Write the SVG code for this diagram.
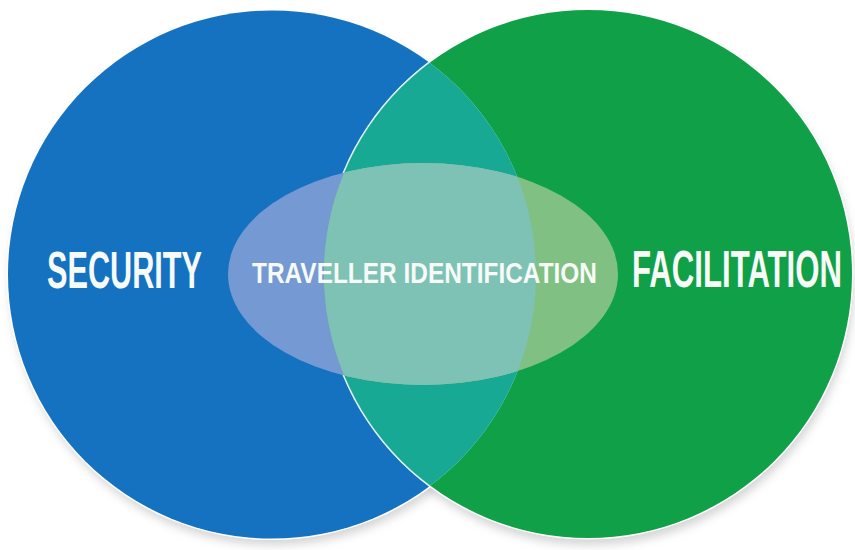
<svg xmlns="http://www.w3.org/2000/svg" width="855" height="550" viewBox="0 0 855 550">
  <style>
    .lbl { font-family: "Liberation Sans", Arial, sans-serif; font-weight: bold; fill: #f7faf7; }
  </style>
  <defs>
    <clipPath id="clipL"><circle cx="272" cy="274.5" r="264"/></clipPath>
    <clipPath id="clipR"><circle cx="588" cy="274" r="264"/></clipPath>
    <filter id="shadow" x="-10%" y="-10%" width="120%" height="120%">
      <feGaussianBlur stdDeviation="5"/>
    </filter>
  </defs>
  <rect width="855" height="550" fill="#ffffff"/>
  <!-- soft shadows -->
  <circle cx="274" cy="281" r="264" fill="#b8b8b8" opacity="0.6" filter="url(#shadow)"/>
  <circle cx="590" cy="281" r="264" fill="#b8b8b8" opacity="0.6" filter="url(#shadow)"/>
  <g id="security">
    <circle cx="272" cy="274.5" r="265.5" fill="#ffffff"/>
    <circle cx="272" cy="274.5" r="264" fill="#1472c0"/>
  </g>
  <g id="facilitation">
    <circle cx="588" cy="274" r="265.5" fill="#ffffff"/>
    <circle cx="588" cy="274" r="264" fill="#0fa048"/>
    <g clip-path="url(#clipL)">
      <circle cx="588" cy="274" r="265" fill="#d8f0ee"/>
      <circle cx="588" cy="274" r="264" fill="#17a994"/>
    </g>
  </g>
  <g id="traveller-identification">
    <g clip-path="url(#clipL)">
      <ellipse cx="423" cy="274" rx="195" ry="111" fill="#7599d2"/>
    </g>
    <g clip-path="url(#clipR)">
      <ellipse cx="423" cy="274" rx="195" ry="111" fill="#81c083"/>
      <g clip-path="url(#clipL)">
        <ellipse cx="423" cy="274" rx="195" ry="111" fill="#7dc2b4"/>
      </g>
    </g>
    <text class="lbl" font-size="24.2" transform="translate(252,283) scale(1,1.2)" x="0" y="0" textLength="345" lengthAdjust="spacingAndGlyphs">TRAVELLER IDENTIFICATION</text>
  </g>
  <text class="lbl" font-size="30.7" transform="translate(47,288) scale(1,1.7)" x="0" y="0" textLength="155" lengthAdjust="spacingAndGlyphs">SECURITY</text>
  <text class="lbl" font-size="30.2" transform="translate(632,287) scale(1,1.72)" x="0" y="0" textLength="210" lengthAdjust="spacingAndGlyphs">FACILITATION</text>
  <g id="connectors"/>
</svg>
